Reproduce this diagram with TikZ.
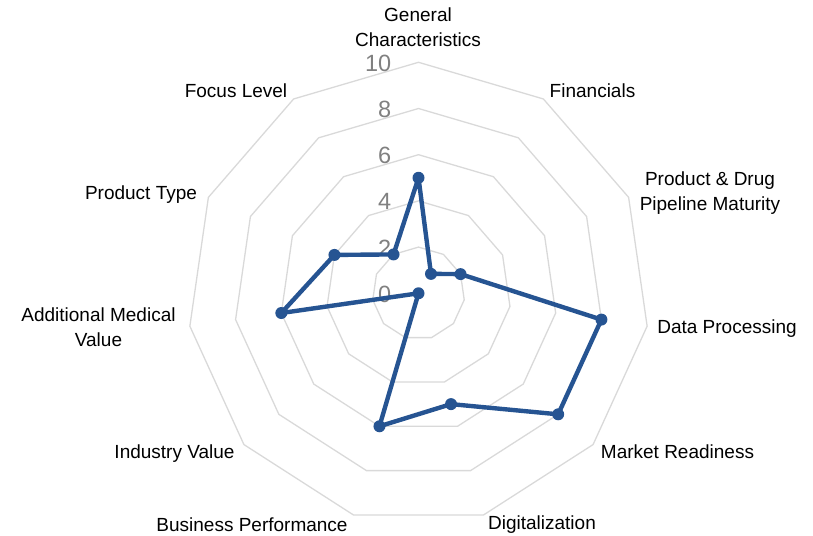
\documentclass[tikz,border=0pt]{standalone}
\usepackage{fontspec}
\setmainfont{Liberation Sans}
\definecolor{gridgray}{RGB}{217,217,217}
\definecolor{databl}{RGB}{38,84,146}
\definecolor{numgray}{RGB}{128,128,128}
\begin{document}
\begin{tikzpicture}[x=1pt,y=1pt,
  gridline/.style={draw=gridgray,line width=1.3pt,line join=miter},
  dataline/.style={draw=databl,line width=4.4pt,line join=round},
  marker/.style={circle,fill=databl,inner sep=0pt,minimum size=12pt},
  catlabel/.style={font=\fontsize{19}{25}\selectfont,align=center,inner sep=0pt,text=black},
  scalelabel/.style={font=\fontsize{23.5}{26}\selectfont,text=numgray,anchor=east,inner sep=0pt}]
\useasboundingbox (0,0) rectangle (813,535);
\begin{scope}[shift={(418.5,241.7)}]
  \foreach \r in {2,4,6,8,10}{
    \draw[gridline] (90:\r*23.1) \foreach \i in {1,...,10}{ -- ({90-\i*360/11}:\r*23.1) } -- cycle;
  }
  \foreach \v in {0,2,...,10}{
    \node[scalelabel] (s\v) at (-27, \v*23.1-1) {\v};
  }
  \foreach \k/\val in {0/5,1/1,2/2,3/8,4/8,5/5,6/6,7/0,8/6,9/4,10/2}{
    \coordinate (p\k) at ({90-\k*360/11}:\val*23.1);
  }
  \draw[dataline] (p0) -- (p1) -- (p2) -- (p3) -- (p4) -- (p5) -- (p6) -- (p7) -- (p8) -- (p9) -- (p10) -- cycle;
  \foreach \k in {0,...,10}{
    \node[marker] (m\k) at (p\k) {};
  }
\end{scope}
\node[catlabel] (l0) at (418,507.5) {General\\Characteristics};
\node[catlabel] (l1) at (592.5,444) {Financials};
\node[catlabel] (l2) at (710,342) {Product \& Drug\\Pipeline Maturity};
\node[catlabel] (l3) at (727,206) {Data Processing};
\node[catlabel] (l4) at (677.5,83) {Market Readiness};
\node[catlabel] (l5) at (542,10.5) {Digitalization};
\node[catlabel] (l6) at (252,10.5) {Business Performance};
\node[catlabel] (l7) at (174.5,81.5) {Industry Value};
\node[catlabel] (l8) at (98.5,207.5) {Additional Medical\\Value};
\node[catlabel] (l9) at (141,340) {Product Type};
\node[catlabel] (l10) at (236,444) {Focus Level};
\end{tikzpicture}
\end{document}
